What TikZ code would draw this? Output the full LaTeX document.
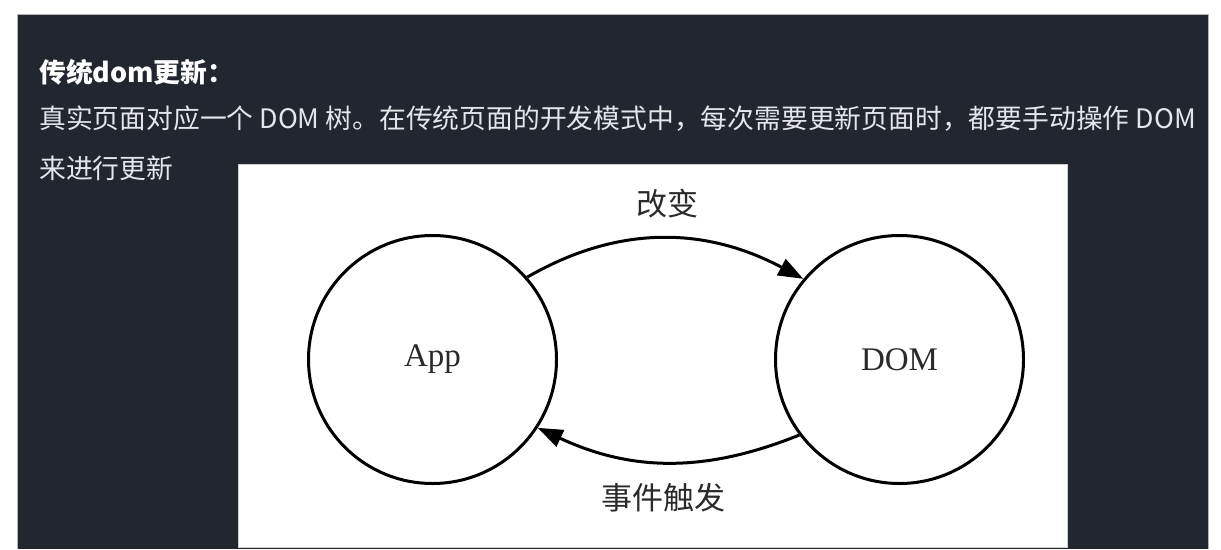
\documentclass[tikz,border=0pt]{standalone}
\usepackage{fontspec}
\setmainfont{Liberation Serif}
\newfontfamily\cjk{Noto Sans CJK SC}
\usetikzlibrary{arrows.meta}
\definecolor{panel}{HTML}{22272F}
\definecolor{bodytext}{HTML}{E4E6EA}
\definecolor{ink}{HTML}{2A2A2A}
\begin{document}
\begin{tikzpicture}[x=1pt,y=-1pt,
  circ/.style={circle,draw=black,line width=3pt,inner sep=0pt,minimum size=248pt,
    font=\fontsize{33pt}{36pt}\selectfont,text=ink},
  conn/.style={draw=black,line width=3pt,-{Triangle[length=25pt,width=18pt]}},
  lbl/.style={font=\cjk\fontsize{31pt}{34pt}\selectfont,text=ink,inner sep=0pt},
  para/.style={font=\cjk\fontsize{26.8pt}{32pt}\selectfont,text=bodytext,inner sep=0pt,anchor=base west},
  head/.style={para,font=\cjk\bfseries\fontsize{26.8pt}{32pt}\selectfont,text=white}]
\useasboundingbox (0,0) rectangle (1221,549);
\fill[white] (0,0) rectangle (1221,549);
\fill[panel] (17,14) rectangle (1208,549);
\draw[gray!60,line width=0.8pt] (17,549) -- (17,14) -- (1208,14) -- (1208,549);
\node[head] (h) at (39,82) {传统dom更新：};
\node[para] (l1) at (39,128) {真实页面对应一个 DOM 树。在传统页面的开发模式中，每次需要更新页面时，都要手动操作 DOM};
\node[para] (l2) at (39,178) {来进行更新};
\filldraw[fill=white,draw=gray!40,line width=0.8pt] (238,164) rectangle (1067,547);
\node[circ] (app) at (432.5,359.5) {\raisebox{-3pt}{App}};
\node[circ] (dom) at (899.5,359.5) {\raisebox{-2pt}{DOM}};
\draw[conn] (app.41) to[out=30,in=152] (dom.140);
\draw[conn] (dom.217) to[out=202,in=335] (app.327);
\node[lbl] (change) at (667,204) {改变};
\node[lbl] (event) at (663,498) {事件触发};
\end{tikzpicture}
\end{document}
